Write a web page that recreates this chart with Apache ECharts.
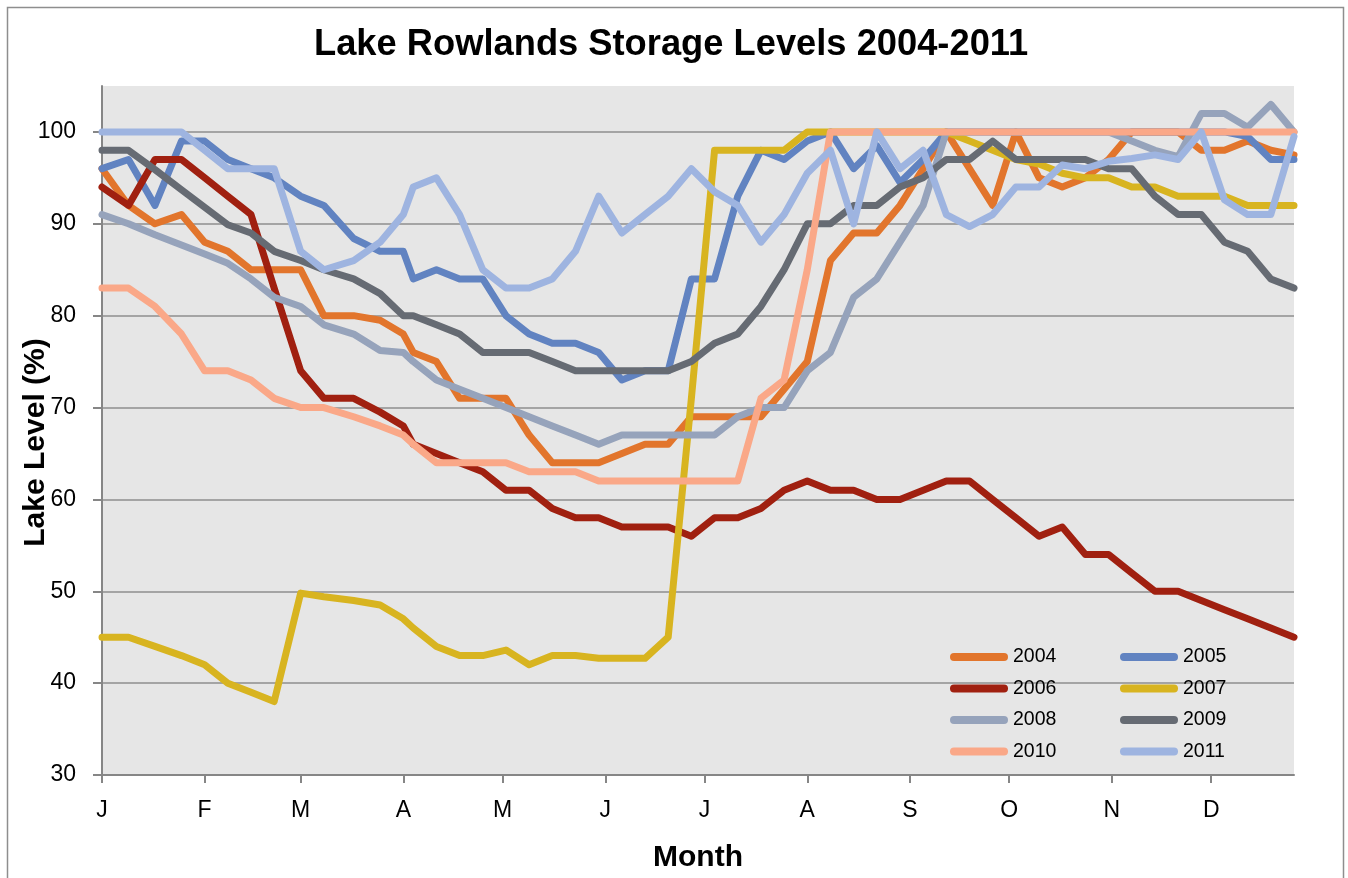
<!DOCTYPE html>
<html>
<head>
<meta charset="utf-8">
<script src="https://cdn.jsdelivr.net/npm/echarts@6/dist/echarts.min.js"></script>
<style>
html,body{margin:0;padding:0;background:#ffffff;}
#chart{width:1348px;height:878px;}
</style>
</head>
<body>
<div id="chart"></div>
<script>
// ---- data (day of year, 2004 calendar, for each reading) ----
const readingDays = [0, 8, 16, 24, 31, 38, 45, 52, 60, 67, 76, 84, 91, 94, 101, 108, 115, 122, 129, 136,
  143, 150, 157, 164, 171, 178, 185, 192, 199, 206, 213, 220, 227, 234, 241, 248, 255, 262, 269, 276,
  283, 290, 297, 304, 311, 318, 325, 332, 339, 346, 353, 360];

const monthStartDays = [0, 31, 60, 91, 121, 152, 182, 213, 244, 274, 305, 335];
const monthLabels = ['J', 'F', 'M', 'A', 'M', 'J', 'J', 'A', 'S', 'O', 'N', 'D'];
const yTickValues = [30, 40, 50, 60, 70, 80, 90, 100];

const years = ['2004', '2005', '2006', '2007', '2008', '2009', '2010', '2011'];

const level2004 = [96, 92, 90, 91, 88, 87, 85, 85, 85, 80, 80, 79.5, 78, 76, 75, 71, 71, 71, 67, 64,
  64, 64, 65, 66, 66, 69, 69, 69, 69, 72, 75, 86, 89, 89, 92, 96, 100, 96, 92, 100,
  95, 94, 95, 97, 100, 100, 100, 98, 98, 99, 98, 97.5];
const level2005 = [96, 97, 92, 99, 99, 97, 96, 95, 93, 92, 88.4, 87, 87, 84, 85, 84, 84, 80, 78, 77,
  77, 76, 73, 74, 74, 84, 84, 93, 98, 97, 99, 100, 96, 98.5, 94.5, 97, 100, 100, 100, 100,
  100, 100, 100, 100, 100, 100, 100, 100, 100, 99.5, 97, 97];
const level2006 = [94, 92, 97, 97, 95, 93, 91, 83, 74, 71, 71, 69.5, 68, 66, 65, 64, 63, 61, 61, 59,
  58, 58, 57, 57, 57, 56, 58, 58, 59, 61, 62, 61, 61, 60, 60, 61, 62, 62, 60, 58,
  56, 57, 54, 54, 52, 50, 50, 49, 48, 47, 46, 45];
const level2007 = [45, 45, 44, 43, 42, 40, 39, 38, 49.8, 49.4, 49, 48.5, 47, 46, 44, 43, 43, 43.6, 42, 43,
  43, 42.7, 42.7, 42.7, 45, 71, 98, 98, 98, 98, 100, 100, 100, 100, 100, 100, 100, 99, 98, 97,
  96.5, 95.5, 95, 95, 94, 94, 93, 93, 93, 92, 92, 92];
const level2008 = [91, 90, 88.8, 87.7, 86.7, 85.7, 84, 82, 81, 79, 78, 76.2, 76, 75, 73, 72, 71, 70, 69, 68,
  67, 66, 67, 67, 67, 67, 67, 69, 70, 70, 74, 76, 82, 84, 88, 92, 100, 100, 100, 100,
  100, 100, 100, 100, 99, 98, 97.3, 102, 102, 100.5, 103, 100];
const level2009 = [98, 98, 95.9, 93.7, 91.8, 89.9, 89, 87, 86, 85, 84, 82.4, 80, 80, 79, 78, 76, 76, 76, 75,
  74, 74, 74, 74, 74, 75, 77, 78, 81, 85, 90, 90, 92, 92, 94, 95, 97, 97, 99, 97,
  97, 97, 97, 96, 96, 93, 91, 91, 88, 87, 84, 83];
const level2010 = [83, 83, 81, 78, 74, 74, 73, 71, 70, 70, 69, 68, 67, 66, 64, 64, 64, 64, 63, 63,
  63, 62, 62, 62, 62, 62, 62, 62, 71, 73, 85, 100, 100, 100, 100, 100, 100, 100, 100, 100,
  100, 100, 100, 100, 100, 100, 100, 100, 100, 100, 100, 100];
const level2011 = [100, 100, 100, 100, 98, 96, 96, 96, 87, 85, 86, 88, 91, 94, 95, 91, 85, 83, 83, 84,
  87, 93, 89, 91, 93, 96, 93.5, 92, 88, 91, 95.5, 98, 90, 100, 96, 98, 91, 89.7, 91, 94,
  94, 96.4, 96, 96.8, 97.1, 97.5, 97, 100, 92.6, 91, 91, 99.5];

const levelsByYear = [level2004, level2005, level2006, level2007, level2008, level2009, level2010, level2011];

// ---- styles ----
const lineColors = ['#E2752C', '#6183C1', '#A02010', '#D8B420', '#96A3BB', '#666B73', '#FAA888', '#9EB4E0'];
const FONT = "'Liberation Sans', Arial, sans-serif";
const AXIS_GRAY = '#868686';
const pillIcon = 'path://M4,0 L54,0 A4,4 0 0 1 54,8 L4,8 A4,4 0 0 1 4,0 Z';

const series = years.map((y, k) => ({
  name: y,
  type: 'line',
  symbol: 'none',
  showSymbol: false,
  smooth: false,
  color: lineColors[k],
  lineStyle: { width: 7, color: lineColors[k], cap: 'round', join: 'round' },
  emphasis: { disabled: true },
  data: readingDays.map((d, i) => [d, levelsByYear[k][i]]),
  z: 2 + k
}));

const legendCommon = {
  orient: 'vertical',
  top: 647,
  padding: 0,
  itemWidth: 58,
  itemHeight: 8,
  itemGap: 11.5,
  icon: pillIcon,
  selectedMode: false,
  textStyle: { fontFamily: FONT, fontSize: 19.5, color: '#000', lineHeight: 20 }
};

const chart = echarts.init(document.getElementById('chart'), null, { renderer: 'canvas' });
chart.setOption({
  animation: false,
  backgroundColor: '#ffffff',
  title: {
    text: 'Lake Rowlands Storage Levels 2004-2011',
    left: 309,
    top: 22,
    textStyle: { fontFamily: FONT, fontSize: 36.3, fontWeight: 'bold', color: '#000' }
  },
  graphic: [{
    type: 'rect',
    silent: true,
    z: -10,
    shape: { x: 7.5, y: 7.5, width: 1336, height: 900 },
    style: { fill: 'none', stroke: '#8E8E8E', lineWidth: 1.5 }
  }],
  legend: [
    Object.assign({}, legendCommon, { left: 950, data: ['2004', '2006', '2008', '2010'] }),
    Object.assign({}, legendCommon, { left: 1120, data: ['2005', '2007', '2009', '2011'] })
  ],
  grid: {
    left: 102, right: 54, top: 86, bottom: 103,
    show: true, backgroundColor: '#E6E6E6', borderWidth: 0,
    containLabel: false, outerBoundsMode: 'none'
  },
  xAxis: {
    type: 'value',
    min: 0,
    max: 360,
    name: 'Month',
    nameLocation: 'middle',
    nameGap: 68,
    nameMoveOverlap: false,
    nameTextStyle: { fontFamily: FONT, fontSize: 30, fontWeight: 'bold', color: '#000' },
    axisLine: { show: true, lineStyle: { color: AXIS_GRAY, width: 2 } },
    axisTick: { show: true, length: 8, customValues: monthStartDays, lineStyle: { color: AXIS_GRAY, width: 2 } },
    axisLabel: {
      customValues: monthStartDays,
      margin: 24,
      fontFamily: FONT, fontSize: 23, color: '#000',
      formatter: function (v) {
        const i = monthStartDays.indexOf(Math.round(v));
        return i >= 0 ? monthLabels[i] : '';
      }
    },
    splitLine: { show: false }
  },
  yAxis: {
    type: 'value',
    min: 30,
    max: 105,
    interval: 10,
    name: 'Lake Level (%)',
    nameLocation: 'middle',
    nameRotate: 90,
    nameGap: 51,
    nameMoveOverlap: false,
    nameTextStyle: { fontFamily: FONT, fontSize: 30, fontWeight: 'bold', color: '#000', padding: [0, 24, 0, 0] },
    axisLine: { show: true, lineStyle: { color: AXIS_GRAY, width: 2 } },
    axisTick: { show: true, length: 9, customValues: yTickValues, lineStyle: { color: AXIS_GRAY, width: 2 } },
    axisLabel: {
      customValues: yTickValues,
      margin: 26,
      fontFamily: FONT, fontSize: 23, color: '#000'
    },
    splitLine: { show: true, showMinLine: false, lineStyle: { color: '#8E8E8E', width: 1.5 } }
  },
  series: series
});
</script>
</body>
</html>
